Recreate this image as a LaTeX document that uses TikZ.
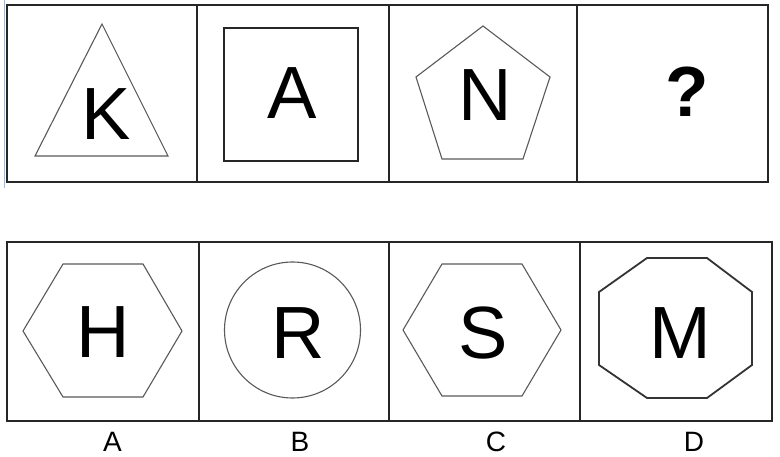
\documentclass[tikz,border=0pt]{standalone}
\usepackage{fontspec}
\setmainfont{Liberation Sans}
\begin{document}
\begin{tikzpicture}[x=1pt,y=-1pt,
  frame/.style={draw=black!85,line width=1.4pt},
  thinshape/.style={draw=black!65,line width=1.1pt,line join=miter},
  darkshape/.style={draw=black!85,line width=1.3pt,line join=miter},
  thickshape/.style={draw=black!80,line width=1.8pt,line join=miter},
  big/.style={inner sep=0pt,anchor=base,font=\fontsize{74}{74}\selectfont},
  lab/.style={inner sep=0pt,anchor=base,font=\fontsize{28}{28}\selectfont}]
\useasboundingbox (0,0) rectangle (780,457);
% faint blue edge
\draw[draw={rgb,255:red,150;green,185;blue,230},line width=1.2pt] (4.5,0) -- (4.5,188);
% top row
\draw[frame] (7,5) rectangle (768,182);
\draw[frame] (197,5) -- (197,182);
\draw[frame] (389,5) -- (389,182);
\draw[frame] (577,5) -- (577,182);
\draw[thinshape] (102,24) -- (168,156) -- (35,156) -- cycle;
\draw[darkshape] (224,28) rectangle (358,161);
\draw[thinshape] (483,26) -- (550,77) -- (523,159) -- (442,159) -- (416,77) -- cycle;
\node[big] (k) at (106,140) {K};
\node[big] (a) at (292,119) {A};
\node[big] (n) at (485,121) {N};
\node[inner sep=0pt,anchor=base,font=\fontsize{71}{71}\selectfont\bfseries] (q) at (687,117) {?};
% bottom row
\draw[frame] (7,242) rectangle (772,421);
\draw[frame] (199,242) -- (199,421);
\draw[frame] (389,242) -- (389,421);
\draw[frame] (580,242) -- (580,421);
\draw[thinshape] (23,331) -- (63,264) -- (143,264) -- (182,331) -- (143,397) -- (63,397) -- cycle;
\draw[thinshape] (292.5,330) circle (68);
\draw[thinshape] (403,330) -- (442,264) -- (522,264) -- (561,330) -- (522,396) -- (442,396) -- cycle;
\draw[thickshape] (647,258) -- (707,258) -- (752,292) -- (752,365) -- (707,398) -- (647,398) -- (599,365) -- (599,292) -- cycle;
\node[big] (h) at (103,358) {H};
\node[big] (r) at (298,359) {R};
\node[big] (s) at (483,359) {S};
\node[big] (m) at (680,359) {M};
% labels
\node[lab] (la) at (112.5,451) {A};
\node[lab] (lb) at (300,451) {B};
\node[lab] (lc) at (496,451) {C};
\node[lab] (ld) at (694,451) {D};
\end{tikzpicture}
\end{document}
